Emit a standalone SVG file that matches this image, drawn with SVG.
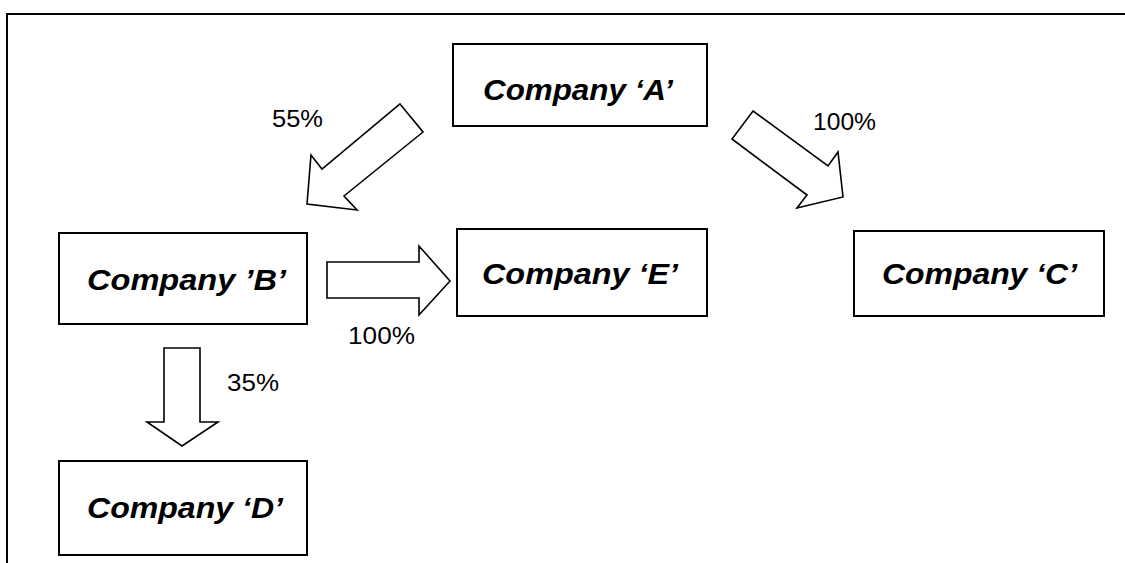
<svg xmlns="http://www.w3.org/2000/svg" width="1125" height="563" viewBox="0 0 1125 563">
<style>
.frame{fill:none;stroke:#000;stroke-width:2}
.box{fill:#fff;stroke:#000;stroke-width:2}
.arrow{fill:#fff;stroke:#000;stroke-width:1.6;stroke-linejoin:miter}
.name{font-family:"Liberation Sans",Arial,sans-serif;font-weight:bold;font-style:italic;font-size:30px;fill:#000}
.pct{font-family:"Liberation Sans",Arial,sans-serif;font-size:23px;fill:#000}
</style>
<rect width="1125" height="563" fill="#fff"/>
<path class="frame" d="M7,563 V14 H1125"/>
<g id="connectors">
<polygon class="arrow" points="400,104 423,132 344,196 357,210 307,204 311,155 322,169"/>
<polygon class="arrow" points="753,111 828,166 838,152 843,197 797,208 807,195 732,139"/>
<polygon class="arrow" points="327,262 419,262 419,246 450,281 419,315 419,298 327,298"/>
<polygon class="arrow" points="164,348 200,348 200,422 218,422 182,446 147,422 164,422"/>
<text class="pct" x="272" y="127" textLength="51" lengthAdjust="spacingAndGlyphs">55%</text>
<text class="pct" x="813" y="130" textLength="63" lengthAdjust="spacingAndGlyphs">100%</text>
<text class="pct" x="348" y="344" textLength="67" lengthAdjust="spacingAndGlyphs">100%</text>
<text class="pct" x="227" y="391" textLength="52" lengthAdjust="spacingAndGlyphs">35%</text>
</g>
<g id="nodeA">
<rect class="box" x="453" y="44" width="254" height="82"/>
<text class="name" x="483" y="100" textLength="190" lengthAdjust="spacingAndGlyphs">Company ‘A’</text>
</g>
<g id="nodeB">
<rect class="box" x="59" y="233" width="248" height="91"/>
<text class="name" x="87" y="290" textLength="199" lengthAdjust="spacingAndGlyphs">Company ’B’</text>
</g>
<g id="nodeE">
<rect class="box" x="457" y="229" width="250" height="87"/>
<text class="name" x="482" y="284" textLength="196" lengthAdjust="spacingAndGlyphs">Company ‘E’</text>
</g>
<g id="nodeC">
<rect class="box" x="854" y="231" width="250" height="85"/>
<text class="name" x="882" y="284" textLength="195" lengthAdjust="spacingAndGlyphs">Company ‘C’</text>
</g>
<g id="nodeD">
<rect class="box" x="59" y="461" width="248" height="94"/>
<text class="name" x="87" y="518" textLength="196" lengthAdjust="spacingAndGlyphs">Company ‘D’</text>
</g>
</svg>
